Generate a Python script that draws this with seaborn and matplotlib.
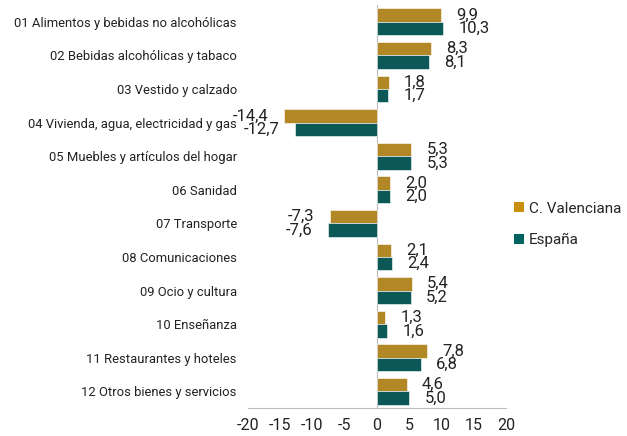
import matplotlib
matplotlib.use("Agg")
import matplotlib.pyplot as plt
import seaborn as sns
import pandas as pd
from matplotlib.patches import Patch

categories = [
    "01 Alimentos y bebidas no alcohólicas",
    "02 Bebidas alcohólicas y tabaco",
    "03 Vestido y calzado",
    "04 Vivienda, agua, electricidad y gas",
    "05 Muebles y artículos del hogar",
    "06 Sanidad",
    "07 Transporte",
    "08 Comunicaciones",
    "09 Ocio y cultura",
    "10 Enseñanza",
    "11 Restaurantes y hoteles",
    "12 Otros bienes y servicios",
]
valenciana = [9.9, 8.3, 1.8, -14.4, 5.3, 2.0, -7.3, 2.1, 5.4, 1.3, 7.8, 4.6]
espana = [10.3, 8.1, 1.7, -12.7, 5.3, 2.0, -7.6, 2.4, 5.2, 1.6, 6.8, 5.0]
series = ["C. Valenciana", "España"]
xticks = [-20, -15, -10, -5, 0, 5, 10, 15, 20]

colors = {"C. Valenciana": "#C9900E", "España": "#006462"}

df = pd.DataFrame({
    "cat": categories * 2,
    "val": valenciana + espana,
    "serie": [series[0]] * len(categories) + [series[1]] * len(categories),
})

sns.set_style("white")
plt.rcParams["font.family"] = ["Roboto", "DejaVu Sans"]

fig = plt.figure(figsize=(6.27, 4.36), dpi=100)
ax = fig.add_axes([0.3955, 0.064, 0.4115, 0.9245])

sns.barplot(data=df, y="cat", x="val", hue="serie", hue_order=series,
            order=categories, palette=colors, orient="h", width=0.8,
            edgecolor="white", linewidth=0.4, ax=ax, legend=False)

for cont, vals in zip(ax.containers, [valenciana, espana]):
    labels = [f"{v:.1f}".replace(".", ",") for v in vals]
    ax.bar_label(cont, labels=labels, padding=11, fontsize=12, color="#222222")

ax.set_xlim(-20, 20)
ax.set_ylim(11.5, -0.5)
ax.set_xticks(xticks)
ax.set_xticklabels([str(t) for t in xticks], fontsize=11.5, color="#222222")
ax.tick_params(axis="y", labelsize=9.4, colors="#222222", length=0, pad=8)
ax.tick_params(axis="x", length=0, pad=7)
ax.set_xlabel("")
ax.set_ylabel("")

for s in ["top", "right", "left"]:
    ax.spines[s].set_visible(False)
ax.spines["bottom"].set_color("#bbbbbb")
ax.spines["bottom"].set_linewidth(0.8)
ax.axvline(0, color="#bbbbbb", linewidth=0.8, zorder=0)

handles = [Patch(facecolor=colors[s], edgecolor="none") for s in series]
fig.legend(handles, series, loc="center left", bbox_to_anchor=(0.798, 0.485),
           frameon=False, fontsize=11, handlelength=0.65, handleheight=0.65,
           handletextpad=0.3, labelspacing=1.15)

fig.savefig("out.png", dpi=100)
